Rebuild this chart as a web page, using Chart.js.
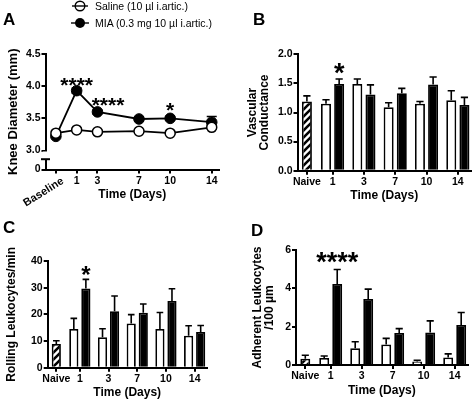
<!DOCTYPE html>
<html>
<head>
<meta charset="utf-8">
<script src="https://cdn.jsdelivr.net/npm/chart.js@4.4.1/dist/chart.umd.min.js"></script>
<style>
  html, body { margin: 0; padding: 0; background: #fff; }
  #wrap { position: relative; width: 472px; height: 401px; overflow: hidden;
          font-family: "Liberation Sans", Arial, Helvetica, sans-serif; color: #000; }
  #wrap canvas { position: absolute; left: 0; top: 0; }
  .plabel { position: absolute; font-weight: bold; font-size: 17px; line-height: 17px; }
  .legtxt { position: absolute; font-size: 10.5px; line-height: 12px; white-space: nowrap; }
  .legmk { position: absolute; }
</style>
</head>
<body>
<div id="wrap">
  <canvas id="cA" width="472" height="401"></canvas>
  <canvas id="cB" width="472" height="401"></canvas>
  <canvas id="cC" width="472" height="401"></canvas>
  <canvas id="cD" width="472" height="401"></canvas>

  <div class="plabel" style="left:3px;top:11px">A</div>
  <div class="plabel" style="left:253px;top:11px">B</div>
  <div class="plabel" style="left:3px;top:219px">C</div>
  <div class="plabel" style="left:251px;top:222px">D</div>

  <svg class="legmk" style="left:70px;top:0px" width="20" height="12">
    <circle cx="10" cy="6" r="4.8" fill="#fff" stroke="#000" stroke-width="1.4"/>
    <line x1="2" y1="6" x2="18" y2="6" stroke="#000" stroke-width="1.4"/>
  </svg>
  <div class="legtxt" style="left:95px;top:0px">Saline (10 µl i.artic.)</div>
  <svg class="legmk" style="left:70px;top:16.5px" width="20" height="12">
    <line x1="1" y1="6" x2="19" y2="6" stroke="#000" stroke-width="1.4"/>
    <circle cx="10" cy="6" r="5" fill="#000"/>
  </svg>
  <div class="legtxt" style="left:95px;top:16.5px">MIA (0.3 mg 10 µl i.artic.)</div>
</div>

<script>
// ================= DATA =================
// Panel A – knee diameter (mm)
const A_LABELS = ['Baseline', '1', '3', '7', '10', '14'];
const A_DAYS = [-1, 1, 3, 7, 10, 14];
const A_SALINE = [3.27, 3.32, 3.29, 3.30, 3.27, 3.36];
const A_SALINE_SEM = [0.02, 0.02, 0.02, 0.02, 0.02, 0.03];
const A_MIA = [3.22, 3.93, 3.60, 3.49, 3.50, 3.44];
const A_MIA_SEM = [0.02, 0.04, 0.03, 0.03, 0.03, 0.09];
const A_Y_TICKS = [3.0, 3.5, 4.0, 4.5];
const A_Y_ZERO_LABEL = '0';
const A_STARS = [{ i: 1, text: '****' }, { i: 2, text: '****' }, { i: 4, text: '*' }];

// Bar panels share categories
const BAR_LABELS = ['Naive', '1', '3', '7', '10', '14'];

// Panel B – vascular conductance
const B_NAIVE = [1.19];
const B_NAIVE_SEM = [0.095];
const B_SALINE = [1.15, 1.49, 1.09, 1.15, 1.21];
const B_SALINE_SEM = [0.07, 0.085, 0.077, 0.04, 0.165];
const B_MIA = [1.49, 1.31, 1.33, 1.48, 1.13];
const B_MIA_SEM = [0.085, 0.165, 0.085, 0.13, 0.13];
const B_STARS = [{ i: 0, text: '*' }];

// Panel C – rolling leukocytes/min
const C_NAIVE = [8.9];
const C_NAIVE_SEM = [1.2];
const C_SALINE = [14.5, 11.4, 16.6, 14.5, 12.0];
const C_SALINE_SEM = [4.0, 3.2, 3.3, 6.2, 3.7];
const C_MIA = [29.7, 21.2, 20.6, 25.0, 13.4];
const C_MIA_SEM = [3.4, 5.7, 3.3, 4.6, 2.4];
const C_STARS = [{ i: 0, text: '*' }];

// Panel D – adherent leukocytes/100 µm
const D_NAIVE = [0.33];
const D_NAIVE_SEM = [0.18];
const D_SALINE = [0.37, 0.88, 1.07, 0.18, 0.39];
const D_SALINE_SEM = [0.10, 0.33, 0.32, 0.07, 0.19];
const D_MIA = [4.23, 3.44, 1.67, 1.70, 2.09];
const D_MIA_SEM = [0.75, 0.52, 0.23, 0.60, 0.65];
const D_STARS = [{ i: 0, text: '****' }];

// ================= STYLE / LAYOUT =================
const FONT = '"Liberation Sans", Arial, Helvetica, sans-serif';
Chart.defaults.font.family = FONT;
Chart.defaults.color = '#000';
const TICK_FONT = { size: 10.5, weight: 'bold' };
const XTITLE_FONT = { size: 12, weight: 'bold', lineHeight: 1.2 };
const YTITLE_FONT = { size: 12, weight: 'bold', lineHeight: 1.0 };
const AXIS_W = 2;
const X_AXIS_H = 32.5;

function gridStyle() {
  return { display: true, drawOnChartArea: false, drawTicks: true, tickLength: 4,
           color: '#000', lineWidth: AXIS_W, offset: false };
}
function borderStyle() { return { display: true, color: '#000', width: AXIS_W }; }

function layoutPadding(box, yW) {
  return { left: box.left - yW, top: box.top, right: 472 - box.right,
           bottom: 401 - box.bottom - X_AXIS_H };
}

function drawStar(ctx, x, yAnchor, text, size, gap) {
  ctx.save();
  ctx.font = 'bold ' + size + 'px ' + FONT;
  ctx.fillStyle = '#000';
  ctx.textAlign = 'center';
  ctx.textBaseline = 'alphabetic';
  ctx.fillText(text, x, yAnchor - gap + 0.575 * size);
  ctx.restore();
}

function hatchPattern() {
  const n = 7;
  const c = document.createElement('canvas');
  c.width = n; c.height = n;
  const g = c.getContext('2d');
  g.fillStyle = '#fff'; g.fillRect(0, 0, n, n);
  g.strokeStyle = '#000'; g.lineWidth = 2.6;
  g.beginPath();
  g.moveTo(-1, n + 1); g.lineTo(n + 1, -1);
  g.moveTo(-2, 2); g.lineTo(2, -2);
  g.moveTo(n - 2, n + 2); g.lineTo(n + 2, n - 2);
  g.stroke();
  return g.createPattern(c, 'repeat');
}

// ================= PANEL A =================
(function () {
  const box = { left: 45.5, right: 219, top: 54, bottom: 169.5 };
  const yW = 39;
  const Y_MIN = 2.705;           // bottom of broken axis (labelled 0)
  const BREAK_TOP = 2.985;       // gap under the 3.0 tick
  const BREAK_CAP = 2.865;       // cap of lower stub
  const starStyle = [{ size: 21, gap: 11.2, dx: 0 }, { size: 21, gap: 11.5, dx: 10.6 }, { size: 21, gap: 13, dx: 0 }];

  const errPlugin = {
    id: 'aErr',
    beforeDatasetsDraw(chart) {
      const ctx = chart.ctx, ys = chart.scales.y, xs = chart.scales.x;
      [[A_SALINE, A_SALINE_SEM], [A_MIA, A_MIA_SEM]].forEach(([vals, sem]) => {
        vals.forEach((v, i) => {
          const x = xs.getPixelForValue(A_DAYS[i]);
          const y1 = ys.getPixelForValue(v + sem[i]);
          const y2 = ys.getPixelForValue(v - sem[i]);
          ctx.save(); ctx.strokeStyle = '#000'; ctx.lineWidth = 1.5;
          ctx.beginPath();
          ctx.moveTo(x, y1); ctx.lineTo(x, y2);
          ctx.moveTo(x - 5, y1); ctx.lineTo(x + 5, y1);
          ctx.moveTo(x - 5, y2); ctx.lineTo(x + 5, y2);
          ctx.stroke(); ctx.restore();
        });
      });
    }
  };
  const decoPlugin = {
    id: 'aDeco',
    afterDraw(chart) {
      const ctx = chart.ctx, ys = chart.scales.y, xs = chart.scales.x;
      // axis break
      const ax = chart.chartArea.left;
      const yTop = ys.getPixelForValue(BREAK_TOP);
      const yCap = ys.getPixelForValue(BREAK_CAP);
      ctx.save();
      ctx.fillStyle = '#fff';
      ctx.fillRect(ax - 3, yTop, 6, yCap - yTop);
      ctx.strokeStyle = '#000'; ctx.lineWidth = AXIS_W;
      ctx.beginPath(); ctx.moveTo(ax - 4.5, yCap); ctx.lineTo(ax + 4.5, yCap); ctx.stroke();
      ctx.restore();
      // rotated "Baseline" label
      const px = xs.getPixelForValue(A_DAYS[0]);
      ctx.save();
      ctx.translate(px + 4, xs.top + 6);
      ctx.rotate(-32 * Math.PI / 180);
      ctx.font = 'bold 11px ' + FONT;
      ctx.fillStyle = '#000';
      ctx.textAlign = 'right';
      ctx.textBaseline = 'top';
      ctx.fillText(A_LABELS[0], 0, 0);
      ctx.restore();
      // significance stars
      A_STARS.forEach((s, k) => {
        const st = starStyle[k];
        drawStar(ctx, xs.getPixelForValue(A_DAYS[s.i]) + st.dx, ys.getPixelForValue(A_MIA[s.i]), s.text, st.size, st.gap);
      });
    }
  };

  new Chart(document.getElementById('cA'), {
    type: 'line',
    data: {
      datasets: [
        { label: 'Saline (10 µl i.artic.)', data: A_DAYS.map((d, i) => ({ x: d, y: A_SALINE[i] })),
          borderColor: '#000', borderWidth: 1.8, pointRadius: 5, pointBackgroundColor: '#fff',
          pointBorderColor: '#000', pointBorderWidth: 1.5, tension: 0 },
        { label: 'MIA (0.3 mg 10 µl i.artic.)', data: A_DAYS.map((d, i) => ({ x: d, y: A_MIA[i] })),
          borderColor: '#000', borderWidth: 1.8, pointRadius: 5.3, pointBackgroundColor: '#000',
          pointBorderColor: '#000', pointBorderWidth: 1, tension: 0 }
      ]
    },
    options: {
      responsive: false, animation: false, devicePixelRatio: 1,
      layout: { padding: layoutPadding(box, yW) },
      plugins: { legend: { display: false }, tooltip: { enabled: false } },
      scales: {
        x: {
          type: 'linear', min: -2, max: 14.7, offset: false,
          grid: gridStyle(), border: borderStyle(),
          afterBuildTicks: s => { s.ticks = A_DAYS.map(v => ({ value: v })); },
          afterFit: s => { s.height = X_AXIS_H; },
          ticks: { autoSkip: false, maxRotation: 0, minRotation: 0, padding: 1, font: TICK_FONT,
                   callback: (v, i) => (i === 0 ? '' : A_LABELS[i]) },
          title: { display: true, text: 'Time (Days)', font: XTITLE_FONT, padding: 0 }
        },
        y: {
          type: 'linear', min: Y_MIN, max: 4.5,
          grid: gridStyle(), border: borderStyle(),
          afterBuildTicks: s => { s.ticks = [Y_MIN].concat(A_Y_TICKS).map(v => ({ value: v })); },
          afterFit: s => { s.width = yW; },
          ticks: { padding: 1, font: TICK_FONT,
                   callback: (v, i) => (i === 0 ? A_Y_ZERO_LABEL : Number(v).toFixed(1)) },
          title: { display: true, text: 'Knee Diameter (mm)', font: { size: 13, weight: 'bold', lineHeight: 1.0 }, padding: 0 }
        }
      }
    },
    plugins: [errPlugin, decoPlugin]
  });
})();

// ================= BAR PANELS =================
function barPanel(id, box, yW, yMax, yStep, yFmt, yTitle, naive, naiveSem, sal, salSem, mia, miaSem, stars, starStyle) {
  const NAIVE_POS = 0.18, PAIR = 0.42, BW = 0.32;
  const minSp = 1 - NAIVE_POS;
  const catPct = 2 * PAIR / minSp;
  const barPct = BW / PAIR;
  const naiveBarPct = BW / (minSp * catPct);
  const groupX = sal.map((_, i) => i + 1);
  const tickVals = [NAIVE_POS].concat(groupX);

  const errPlugin = {
    id: 'barErr',
    afterDatasetsDraw(chart) {
      const ctx = chart.ctx, ys = chart.scales.y;
      chart.data.datasets.forEach((ds, di) => {
        const meta = chart.getDatasetMeta(di);
        meta.data.forEach((el, i) => {
          const v = ds.data[i].y, e = ds.sem[i];
          const x = el.x, y0 = ys.getPixelForValue(v), y1 = ys.getPixelForValue(v + e);
          const w = el.width * 0.36;
          ctx.save(); ctx.strokeStyle = '#000'; ctx.lineWidth = 1.6;
          ctx.beginPath();
          ctx.moveTo(x, y0); ctx.lineTo(x, y1);
          ctx.moveTo(x - w, y1); ctx.lineTo(x + w, y1);
          ctx.stroke(); ctx.restore();
        });
      });
      const miaMeta = chart.getDatasetMeta(2);
      stars.forEach(s => {
        const el = miaMeta.data[s.i];
        drawStar(ctx, el.x + starStyle.dx, ys.getPixelForValue(mia[s.i] + miaSem[s.i]), s.text, starStyle.size, starStyle.gap);
      });
    }
  };

  return new Chart(document.getElementById(id), {
    type: 'bar',
    data: {
      datasets: [
        { label: 'Naive', data: naive.map(v => ({ x: NAIVE_POS, y: v })), sem: naiveSem,
          backgroundColor: hatchPattern(), borderColor: '#000', borderWidth: 1.8,
          grouped: false, categoryPercentage: catPct, barPercentage: naiveBarPct },
        { label: 'Saline', data: sal.map((v, i) => ({ x: groupX[i], y: v })), sem: salSem,
          backgroundColor: '#fff', borderColor: '#000', borderWidth: 1.8,
          categoryPercentage: catPct, barPercentage: barPct },
        { label: 'MIA', data: mia.map((v, i) => ({ x: groupX[i], y: v })), sem: miaSem,
          backgroundColor: '#000', borderColor: '#000', borderWidth: 1.8,
          categoryPercentage: catPct, barPercentage: barPct }
      ]
    },
    options: {
      responsive: false, animation: false, devicePixelRatio: 1,
      layout: { padding: layoutPadding(box, yW) },
      plugins: { legend: { display: false }, tooltip: { enabled: false } },
      scales: {
        x: {
          type: 'linear', min: -0.12, max: 5.42, offset: false,
          grid: gridStyle(), border: borderStyle(),
          afterBuildTicks: s => { s.ticks = tickVals.map(v => ({ value: v })); },
          afterFit: s => { s.height = X_AXIS_H; },
          ticks: { autoSkip: false, maxRotation: 0, minRotation: 0, padding: 1, font: TICK_FONT,
                   callback: (v, i) => BAR_LABELS[i] },
          title: { display: true, text: 'Time (Days)', font: XTITLE_FONT, padding: 0 }
        },
        y: {
          type: 'linear', min: 0, max: yMax,
          grid: gridStyle(), border: borderStyle(),
          afterFit: s => { s.width = yW; },
          ticks: { stepSize: yStep, padding: 1, font: TICK_FONT, callback: v => yFmt(v) },
          title: { display: true, text: yTitle, font: YTITLE_FONT, padding: 0 }
        }
      }
    },
    plugins: [errPlugin]
  });
}

barPanel('cB', { left: 297.5, right: 471, top: 54.3, bottom: 170.7 }, 50.8, 2.0, 0.5,
  v => Number(v).toFixed(1), ['Vascular', 'Conductance'],
  B_NAIVE, B_NAIVE_SEM, B_SALINE, B_SALINE_SEM, B_MIA, B_MIA_SEM, B_STARS, { size: 27, gap: 13, dx: 0 });

barPanel('cC', { left: 47.7, right: 206.7, top: 261, bottom: 367.7 }, 42, 40, 10,
  v => String(v), 'Rolling Leukocytes/min',
  C_NAIVE, C_NAIVE_SEM, C_SALINE, C_SALINE_SEM, C_MIA, C_MIA_SEM, C_STARS, { size: 24, gap: 10.4, dx: 0 });

barPanel('cD', { left: 296, right: 467.7, top: 250, bottom: 365 }, 44.3, 6, 2,
  v => String(v), ['Adherent Leukocytes', '/100 µm'],
  D_NAIVE, D_NAIVE_SEM, D_SALINE, D_SALINE_SEM, D_MIA, D_MIA_SEM, D_STARS, { size: 27, gap: 14.5, dx: 0 });
</script>
</body>
</html>
